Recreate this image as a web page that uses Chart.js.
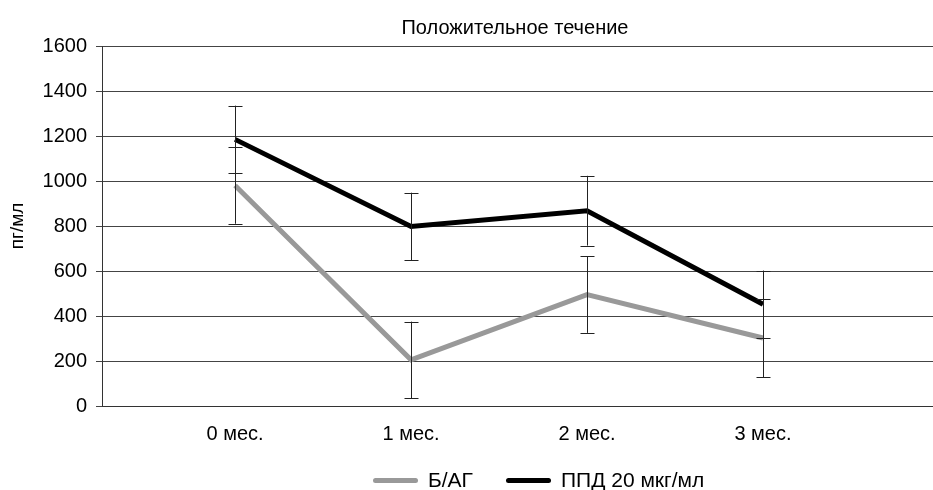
<!DOCTYPE html>
<html>
<head>
<meta charset="utf-8">
<script src="https://cdn.jsdelivr.net/npm/chart.js@4"></script>
<style>
  body { margin: 0; background: #fff; }
  .wrap { position: relative; width: 933px; height: 490px; }
  .title {
    position: absolute; left: 0; top: 16px; width: 1030px;
    text-align: center; font: 20px "Liberation Sans", Arial, sans-serif; color: #000;
  }
  .legend {
    position: absolute; top: 468px; left: 373px;
    display: flex; align-items: center;
    font: 21px "Liberation Sans", Arial, sans-serif; color: #000;
  }
  .legend .item { display: flex; align-items: center; margin-right: 33px; }
  .legend .swatch { width: 45px; height: 5px; border-radius: 3px; margin-right: 10px; }
</style>
</head>
<body>
<div class="wrap">
  <canvas id="chart" width="933" height="490"></canvas>
  <div class="title">Положительное течение</div>
  <div class="legend"></div>
</div>
<script>
const categories = ["0 мес.", "1 мес.", "2 мес.", "3 мес."];
const seriesNames = ["Б/АГ", "ППД 20 мкг/мл"];
const bagValues = [980, 205, 495, 302];
const bagErrors = [170, 170, 170, 175];
const ppdValues = [1185, 798, 868, 452];
const ppdErrors = [150, 150, 155, 150];
const yTicks = [0, 200, 400, 600, 800, 1000, 1200, 1400, 1600];
const lineColors = ["#999999", "#000000"];

const font = { family: "'Liberation Sans', Arial, sans-serif", size: 20 };

// draws vertical error bars with caps using the chart scales
const errorBars = {
  id: "errorBars",
  afterDatasetsDraw(chart) {
    const ctx = chart.ctx;
    const x = chart.scales.x;
    const y = chart.scales.y;
    ctx.save();
    ctx.strokeStyle = "#222222";
    ctx.lineWidth = 1;
    chart.data.datasets.forEach((ds) => {
      ds.data.forEach((pt, i) => {
        const err = ds.errors[i];
        const px = Math.round(x.getPixelForValue(pt.x)) + 0.5;
        const top = y.getPixelForValue(pt.y + err);
        const bottom = y.getPixelForValue(pt.y - err);
        ctx.beginPath();
        ctx.moveTo(px, top);
        ctx.lineTo(px, bottom);
        ctx.moveTo(px - 7, Math.round(top) + 0.5);
        ctx.lineTo(px + 7, Math.round(top) + 0.5);
        ctx.moveTo(px - 7, Math.round(bottom) + 0.5);
        ctx.lineTo(px + 7, Math.round(bottom) + 0.5);
        ctx.stroke();
      });
    });
    ctx.restore();
  },
};

const makeSeries = (values) => values.map((v, i) => ({ x: i, y: v }));

const renderChart = () => {
  const canvas = document.querySelector("#chart");
  new Chart(canvas, {
    type: "line",
    data: {
      datasets: [
        {
          label: seriesNames[0],
          data: makeSeries(bagValues),
          errors: bagErrors,
          borderColor: lineColors[0],
          borderWidth: 5,
          pointRadius: 0,
        },
        {
          label: seriesNames[1],
          data: makeSeries(ppdValues),
          errors: ppdErrors,
          borderColor: lineColors[1],
          borderWidth: 5,
          pointRadius: 0,
        },
      ],
    },
    options: {
      responsive: false,
      animation: false,
      layout: { padding: { top: 46, right: 0, left: 0, bottom: 0 } },
      plugins: { legend: { display: false }, title: { display: false }, tooltip: { enabled: false } },
      scales: {
        x: {
          type: "linear",
          min: -0.756,
          max: 3.966,
          afterBuildTicks: (scale) => {
            scale.ticks = categories.map((c, i) => ({ value: i }));
          },
          afterFit: (scale) => { scale.height = 84; },
          ticks: {
            font: font,
            color: "#000",
            padding: 8,
            maxRotation: 0,
            callback: (v) => categories[v],
          },
          grid: { display: false },
          border: { color: "#333333", width: 1 },
        },
        y: {
          min: 0,
          max: 1600,
          afterBuildTicks: (scale) => {
            scale.ticks = yTicks.map((v) => ({ value: v }));
          },
          afterFit: (scale) => { scale.width = 102; },
          ticks: { font: font, color: "#000", padding: 9, callback: (v) => String(v) },
          grid: { color: "#444444", lineWidth: 1, tickLength: 6 },
          border: { color: "#333333", width: 1 },
          title: { display: true, text: "пг/мл", font: { family: font.family, size: 19 }, color: "#000", padding: 6 },
        },
      },
    },
    plugins: [errorBars],
  });
};

const renderLegend = () => {
  const legend = document.querySelector(".legend");
  seriesNames.forEach((name, i) => {
    const item = document.createElement("div");
    item.className = "item";
    const swatch = document.createElement("span");
    swatch.className = "swatch";
    swatch.style.background = lineColors[i];
    const label = document.createElement("span");
    label.textContent = name;
    item.appendChild(swatch);
    item.appendChild(label);
    legend.appendChild(item);
  });
};

renderChart();
renderLegend();
</script>
</body>
</html>
